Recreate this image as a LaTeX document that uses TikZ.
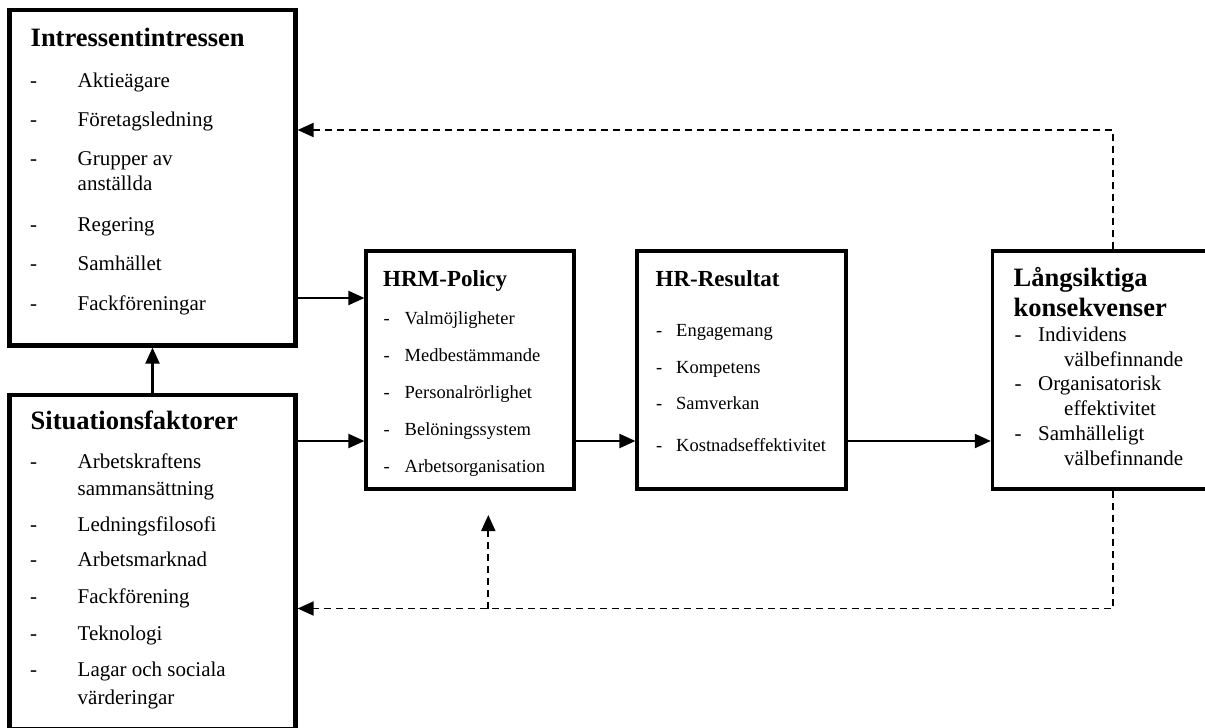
\documentclass[tikz,border=0pt]{standalone}
\usepackage{fontspec}
\setmainfont{Liberation Serif}
\usetikzlibrary{arrows.meta}

\tikzset{
  frame/.style={draw=black, fill=white, rectangle, inner sep=0pt},
  thickframe/.style={frame, line width=4.2pt},
  thinframe/.style={frame, line width=3.2pt},
  arr/.style={line width=2.2pt, -{Triangle[length=16pt,width=14pt]}},
  darr/.style={line width=1.9pt, dash pattern=on 7pt off 5pt,
               -{Triangle[length=16pt,width=14pt]}},
  bighead/.style={anchor=base west, inner sep=0pt, font=\fontsize{26.5}{30}\selectfont\bfseries},
  midhead/.style={anchor=base west, inner sep=0pt, font=\fontsize{23}{27}\selectfont\bfseries},
  bigitem/.style={anchor=base west, inner sep=0pt, font=\fontsize{21}{25}\selectfont},
  miditem/.style={anchor=base west, inner sep=0pt, font=\fontsize{18.5}{22}\selectfont},
}

\begin{document}
\begin{tikzpicture}[x=1pt, y=-1pt]
\useasboundingbox (0,0) rectangle (1205,728);
\clip (0,0) rectangle (1205,728);

% boxes
\node[thickframe, minimum width=286pt, minimum height=335.5pt] (intr) at (152.5,177.75) {};
\node[thickframe, minimum width=286pt, minimum height=334.5pt] (situ) at (152.5,562.25) {};
\node[thinframe, minimum width=208pt, minimum height=238pt] (hrm) at (470,370) {};
\node[thinframe, minimum width=209pt, minimum height=238pt] (hr) at (741.5,370) {};
\node[thinframe, line width=3.4pt, minimum width=227.5pt, minimum height=238pt] (lang) at (1106.25,370) {};

% stakeholder interests
\node[bighead] (intrhead) at (30.5,46) {Intressentintressen};
\foreach \yy/\tt [count=\k] in {87.3/Aktieägare, 126.7/Företagsledning, 165.7/Grupper av,
    231/Regering, 270.7/Samhället, 310/Fackföreningar}{
  \node[bigitem] (intrdash\k) at (30,\yy) {-};
  \node[bigitem] (intritem\k) at (77.5,\yy) {\tt};
}
\node[bigitem] (intrcont) at (77.5,190.7) {anställda};

% situational factors
\node[bighead] (situhead) at (30.5,429.3) {Situationsfaktorer};
\foreach \yy/\tt [count=\k] in {468.3/Arbetskraftens, 531/Ledningsfilosofi, 566.7/Arbetsmarknad,
    603.3/Fackförening, 640/Teknologi, 676/Lagar och sociala}{
  \node[bigitem] (situdash\k) at (30,\yy) {-};
  \node[bigitem] (situitem\k) at (77.5,\yy) {\tt};
}
\node[bigitem] (situconta) at (77.5,495) {sammansättning};
\node[bigitem] (situcontb) at (77.5,704) {värderingar};

% HRM policy
\node[midhead] (hrmhead) at (383,286) {HRM-Policy};
\foreach \yy/\tt [count=\k] in {324/Valmöjligheter, 361/Medbestämmande, 398.3/Personalrörlighet,
    435.7/Belöningssystem, 472.7/Arbetsorganisation}{
  \node[miditem] (hrmdash\k) at (383.5,\yy) {-};
  \node[miditem] (hrmitem\k) at (404.5,\yy) {\tt};
}

% HR outcomes
\node[midhead] (hrhead) at (655.5,286) {HR-Resultat};
\foreach \yy/\tt [count=\k] in {336.7/Engagemang, 373.3/Kompetens, 409.3/Samverkan,
    451.7/Kostnadseffektivitet}{
  \node[miditem] (hrdash\k) at (656,\yy) {-};
  \node[miditem] (hritem\k) at (676,\yy) {\tt};
}

% long-term consequences
\node[bighead] (langheada) at (1013.5,286.7) {Långsiktiga};
\node[bighead] (langheadb) at (1013.5,316) {konsekvenser};
\foreach \yy/\tt/\cc [count=\k] in {341.7/Individens/välbefinnande,
    390/Organisatorisk/effektivitet, 440/Samhälleligt/välbefinnande}{
  \node[bigitem] (langdash\k) at (1014.5,\yy) {-};
  \node[bigitem] (langitem\k) at (1038,\yy) {\tt};
  \node[bigitem] (langcont\k) at (1064,\yy+25) {\cc};
}

% helper coordinates for the connector rows
\coordinate (rowa) at (0,298);
\coordinate (rowb) at (0,441);
\coordinate (fbtop) at (1112.7,130);
\coordinate (fbbot) at (1112.7,608.5);
\coordinate (junc) at (488.3,608.5);
\coordinate (tipup) at (488.3,515);

% solid connectors
\draw[arr] (situ.north) -- (intr.south);
\draw[arr] (intr.east |- rowa) -- (hrm.west |- rowa);
\draw[arr] (situ.east |- rowb) -- (hrm.west |- rowb);
\draw[arr] (hrm.east |- rowb) -- (hr.west |- rowb);
\draw[arr] (hr.east |- rowb) -- (lang.west |- rowb);

% feedback loops
\draw[darr] (lang.north -| fbtop) |- (intr.east |- fbtop);
\draw[darr] (lang.south -| fbbot) |- (situ.east |- fbbot);
\draw[darr] (junc) -- (tipup);
\end{tikzpicture}
\end{document}
